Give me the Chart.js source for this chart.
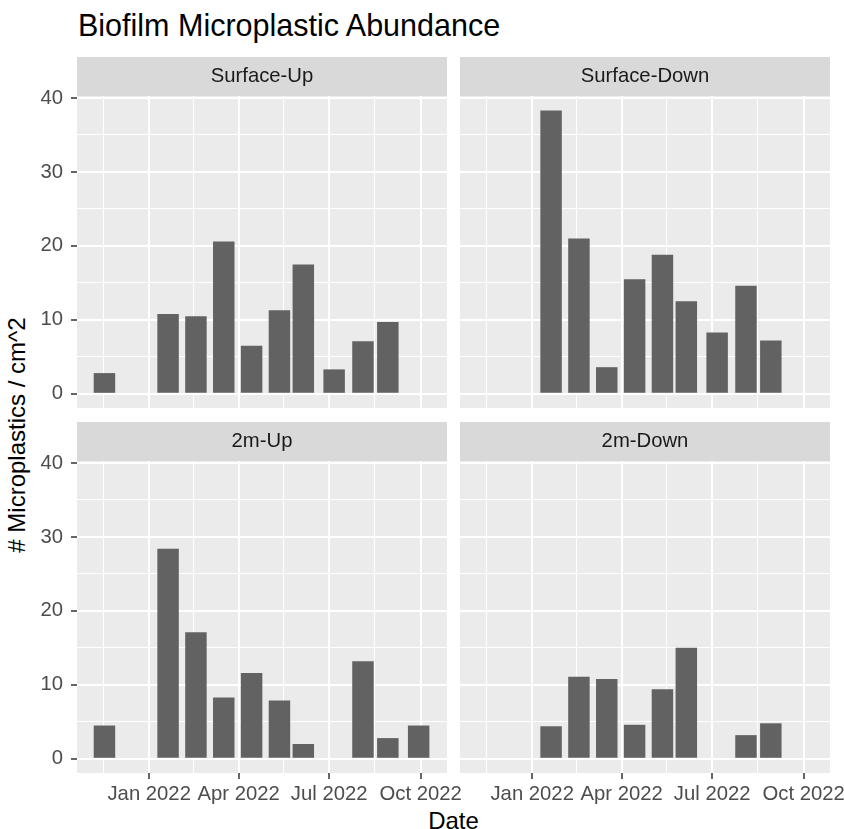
<!DOCTYPE html>
<html>
<head>
<meta charset="utf-8">
<script src="https://cdn.jsdelivr.net/npm/chart.js@4/dist/chart.umd.min.js"></script>
<style>
html, body { margin: 0; padding: 0; background: #fff; overflow: hidden; }
#wrap { position: relative; width: 844px; height: 829px; font-family: "Liberation Sans", Arial, sans-serif; }
canvas { position: absolute; }
.txt { position: absolute; white-space: nowrap; line-height: 1; color: #000; }
</style>
</head>
<body>
<div id="wrap">
  <div class="txt" style="left:78px; top:10px; font-size:30.5px;">Biofilm Microplastic Abundance</div>
  <div class="txt" style="left:16.7px; top:434.5px; font-size:24px; transform:translate(-50%,-50%) rotate(-90deg);"># Microplastics / cm^2</div>
  <div class="txt" style="left:453.5px; top:809px; font-size:24px; transform:translateX(-50%);">Date</div>
  <canvas id="c1" width="460" height="351" style="left:0; top:57px;"></canvas>
  <canvas id="c2" width="384" height="351" style="left:460px; top:57px;"></canvas>
  <canvas id="c3" width="470" height="388" style="left:0; top:422px;"></canvas>
  <canvas id="c4" width="400" height="388" style="left:460px; top:422px;"></canvas>
</div>
<script>
// dados
const facetas = ["Surface-Up", "Surface-Down", "2m-Up", "2m-Down"];

const datasSurfaceUp = ["2021-11-17", "2022-01-20", "2022-02-17", "2022-03-17", "2022-04-14", "2022-05-12", "2022-06-05", "2022-07-06", "2022-08-04", "2022-08-29"];
const valoresSurfaceUp = [2.8, 10.8, 10.5, 20.6, 6.5, 11.3, 17.5, 3.3, 7.1, 9.7];

const datasSurfaceDown = ["2022-01-20", "2022-02-17", "2022-03-17", "2022-04-14", "2022-05-12", "2022-06-05", "2022-07-06", "2022-08-04", "2022-08-29"];
const valoresSurfaceDown = [38.3, 21.0, 3.6, 15.5, 18.8, 12.5, 8.3, 14.6, 7.2];

const datas2mUp = ["2021-11-17", "2022-01-20", "2022-02-17", "2022-03-17", "2022-04-14", "2022-05-12", "2022-06-05", "2022-08-04", "2022-08-29", "2022-09-29"];
const valores2mUp = [4.5, 28.4, 17.1, 8.3, 11.6, 7.9, 2.0, 13.2, 2.8, 4.5];

const datas2mDown = ["2022-01-20", "2022-02-17", "2022-03-17", "2022-04-14", "2022-05-12", "2022-06-05", "2022-08-04", "2022-08-29"];
const valores2mDown = [4.4, 11.1, 10.8, 4.6, 9.4, 15.0, 3.2, 4.8];

const ticksX = ["2022-01-01", "2022-04-01", "2022-07-01", "2022-10-01"];
const rotulosX = ["Jan 2022", "Apr 2022", "Jul 2022", "Oct 2022"];
const ticksXMenores = ["2021-11-16", "2022-02-15", "2022-05-16", "2022-08-16"];
const ticksY = [0, 10, 20, 30, 40];
const ticksYMenores = [5, 15, 25, 35];

const X_MIN = -72.6, X_MAX = 299.5;   // dias desde 1 jan 2022
const Y_MIN = -1.92, Y_MAX = 40.27;

const FONTE = '"Liberation Sans", Arial, sans-serif';
const COR_TICK = '#4D4D4D';
const TAM_TICK = 20.3;

function dia(s) {
    const [a, m, d] = s.split('-').map(Number);
    return (Date.UTC(a, m - 1, d) - Date.UTC(2022, 0, 1)) / 86400000;
}

const diasX = ticksX.map(dia);
const diasXMenores = ticksXMenores.map(dia);

const ehMaior = (c, lista) => !!(c.tick && lista.includes(c.tick.value));

const pluginPainel = {
    id: 'painel',
    beforeDraw(chart, args, opts) {
        const { ctx, chartArea: a } = chart;
        ctx.save();
        ctx.fillStyle = '#EBEBEB';
        ctx.fillRect(a.left, a.top, a.right - a.left, a.bottom - a.top);
        ctx.fillStyle = '#D9D9D9';
        ctx.fillRect(a.left, a.top - 39, a.right - a.left, 39);
        ctx.fillStyle = '#1A1A1A';
        ctx.font = TAM_TICK + 'px ' + FONTE;
        ctx.textAlign = 'center';
        ctx.textBaseline = 'middle';
        ctx.fillText(opts.texto, (a.left + a.right) / 2, a.top - 19.5);
        ctx.restore();
    }
};

function criarPainel(id, titulo, datas, valores, mostrarX, mostrarY, padDireita) {
    const pontos = datas.map((d, i) => ({ x: dia(d), y: valores[i] }));
    return new Chart(document.getElementById(id), {
        type: 'bar',
        data: {
            datasets: [{ data: pontos, backgroundColor: '#626262', barPercentage: 0.9, categoryPercentage: 1 }]
        },
        options: {
            responsive: false,
            devicePixelRatio: 1,
            animation: false,
            layout: { padding: { top: 39, right: padDireita, bottom: 0, left: 0 } },
            plugins: { legend: { display: false }, tooltip: { enabled: false }, painel: { texto: titulo } },
            scales: {
                x: {
                    type: 'linear',
                    min: X_MIN,
                    max: X_MAX,
                    offset: false,
                    afterBuildTicks: s => {
                        s.ticks = diasX.concat(diasXMenores).sort((a, b) => a - b).map(v => ({ value: v }));
                    },
                    afterFit: s => { s.height = mostrarX ? 37 : 0; s.paddingLeft = 0; s.paddingRight = 0; },
                    ticks: {
                        display: mostrarX,
                        autoSkip: false,
                        maxRotation: 0,
                        padding: 3,
                        color: COR_TICK,
                        font: { family: FONTE, size: TAM_TICK },
                        callback: v => { const i = diasX.indexOf(v); return i >= 0 ? rotulosX[i] : ''; }
                    },
                    grid: {
                        offset: false,
                        color: '#FFFFFF',
                        lineWidth: c => ehMaior(c, diasX) ? 2 : 1,
                        drawTicks: mostrarX,
                        tickLength: 6,
                        tickWidth: 1.5,
                        tickColor: c => ehMaior(c, diasX) ? '#333333' : 'rgba(0,0,0,0)'
                    },
                    border: { display: false }
                },
                y: {
                    min: Y_MIN,
                    max: Y_MAX,
                    afterBuildTicks: s => {
                        s.ticks = ticksY.concat(ticksYMenores).sort((a, b) => a - b).map(v => ({ value: v }));
                    },
                    afterFit: s => { s.width = mostrarY ? 77 : 0; s.paddingTop = 0; s.paddingBottom = 0; },
                    ticks: {
                        display: mostrarY,
                        padding: 8,
                        color: COR_TICK,
                        font: { family: FONTE, size: TAM_TICK },
                        callback: v => ticksY.includes(v) ? String(v) : ''
                    },
                    grid: {
                        color: '#FFFFFF',
                        lineWidth: c => ehMaior(c, ticksY) ? 2 : 1,
                        drawTicks: mostrarY,
                        tickLength: 6,
                        tickWidth: 1.5,
                        tickColor: c => ehMaior(c, ticksY) ? '#333333' : 'rgba(0,0,0,0)'
                    },
                    border: { display: false }
                }
            }
        },
        plugins: [pluginPainel]
    });
}

criarPainel('c1', facetas[0], datasSurfaceUp, valoresSurfaceUp, false, true, 13);
criarPainel('c2', facetas[1], datasSurfaceDown, valoresSurfaceDown, false, false, 14);
criarPainel('c3', facetas[2], datas2mUp, valores2mUp, true, true, 23);
criarPainel('c4', facetas[3], datas2mDown, valores2mDown, true, false, 30);
</script>
</body>
</html>
